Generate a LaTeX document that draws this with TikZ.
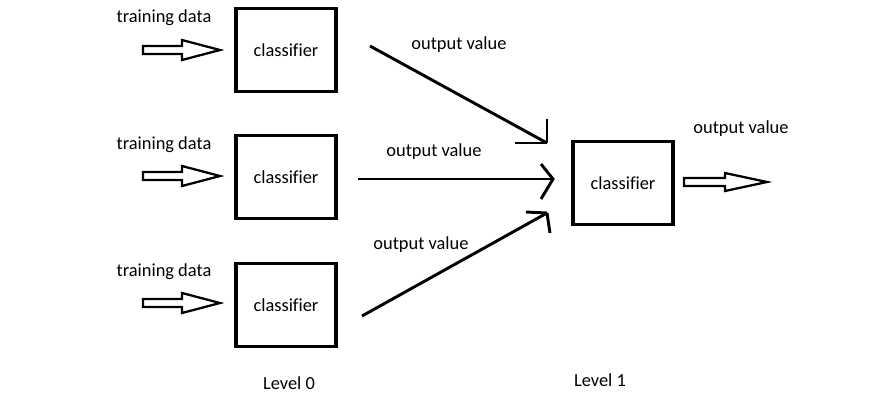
\documentclass[tikz,border=0pt]{standalone}
\usepackage{fontspec}
\setmainfont{Carlito}[Ligatures=NoCommon]
\tikzset{every picture/.style={line width=0.75pt}}
\tikzset{
  clsbox/.style={draw, line width=2.6pt, minimum width=75pt, minimum height=62pt, inner sep=0pt, font=\fontsize{13.8}{16}\selectfont},
  lbl/.style={inner sep=0.75pt, font=\fontsize{13.8}{16}\selectfont},
  outline/.style={line width=2.2pt},
  fatarrow/.style={draw, line width=1.7pt, line join=miter},
}

\begin{document}
\begin{tikzpicture}[x=0.75pt,y=0.75pt,yscale=-1,xscale=1]
\useasboundingbox (0,0) rectangle (888,401);

% Level 0 classifiers
\node[clsbox] (c1) at (286,50) {classifier};
\node[clsbox] (c2) at (286,177) {classifier};
\node[clsbox] (c3) at (286,305) {classifier};
% Level 1 classifier
\node[clsbox] (m) at (623,183) {classifier};

% Text Node
\node[lbl] (t1) at (164,18) {training data};
\node[lbl] (t2) at (164,145) {training data};
\node[lbl] (t3) at (164,272) {training data};
% Text Node
\node[lbl] (o1) at (459,45) {output value};
\node[lbl] (o2) at (434,152) {output value};
\node[lbl] (o3) at (421,245) {output value};
\node[lbl] (o4) at (741,129) {output value};
% Text Node
\node[lbl] (lv0) at (289,383) {Level 0};
\node[lbl] (lv1) at (600,380) {Level 1};

% ends of the connectors
\coordinate (a1) at (370,46);
\coordinate (b1) at (547,143);
\coordinate (a2) at (358,179);
\coordinate (b2) at (553,179);
\coordinate (a3) at (362,316);
\coordinate (b3) at (547,213);

% input arrows
\draw[fatarrow] (143,46) -- ++(39,0) -- ++(0,-6) -- ++(38,10) -- ++(-38,10) -- ++(0,-6) -- ++(-39,0) -- cycle;
\draw[fatarrow] (143,172) -- ++(39,0) -- ++(0,-6) -- ++(38,10) -- ++(-38,10) -- ++(0,-6) -- ++(-39,0) -- cycle;
\draw[fatarrow] (143,299) -- ++(39,0) -- ++(0,-6) -- ++(38,10) -- ++(-38,10) -- ++(0,-6) -- ++(-39,0) -- cycle;
% output arrow
\draw[fatarrow] (684,178) -- ++(41,0) -- ++(0,-5) -- ++(42,9) -- ++(-42,9) -- ++(0,-5) -- ++(-41,0) -- cycle;

%Straight Lines
\draw[outline] (a1) -- (b1);
\draw[outline] (b1) -- ++(0,-24);
\draw[outline] (b1) -- ++(-32,0);
%Straight Lines
\draw[outline] (a2) -- (b2);
\draw[outline] (541,164) -- (b2) -- (541,199);
%Straight Lines
\draw[outline] (a3) -- (b3);
\draw[outline] (b3) -- ++(-21,-1);
\draw[outline] (b3) -- ++(3,20);

\end{tikzpicture}
\end{document}
